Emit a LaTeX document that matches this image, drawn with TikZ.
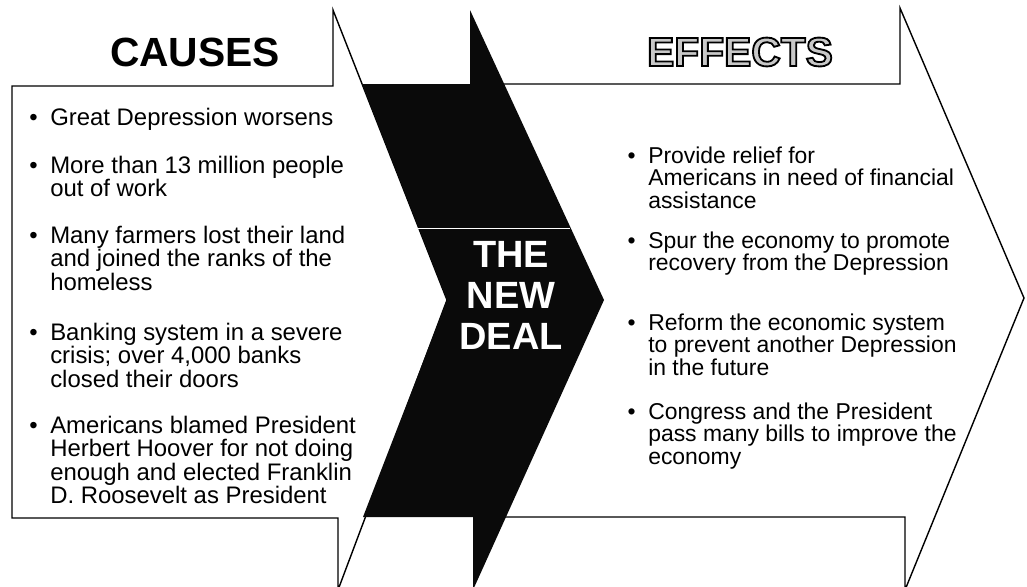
\documentclass[tikz,border=0pt]{standalone}
\usepackage{fontspec}
\setmainfont{Liberation Sans}
\usepackage{xcolor}
\usepackage{tikz}
\tikzset{every picture/.append style={font=\fontsize{17}{16.7}\selectfont}}
\definecolor{dealblack}{HTML}{0A0A0A}
\definecolor{effgray}{HTML}{C8C8C8}
\newcommand{\outlinetext}[1]{\special{pdf:literal 0 G 2 Tr 1.3 w}#1\special{pdf:literal 0 Tr}}

\begin{document}
\begin{tikzpicture}[x=0.025cm,y=-0.025cm,
    arrowbox/.style={draw=black,line width=1pt,fill=white,line join=miter},
    bulletitem/.style={anchor=base west,align=left,inner sep=0pt},
    headtxt/.style={font=\fontsize{29}{30}\selectfont\bfseries,inner sep=0pt}]
    \useasboundingbox (0,0) rectangle (1027,586);
    \begin{scope}
      \clip (0,0) rectangle (1027,586);
      \draw[arrowbox] (12,86) -- (333,86) -- (333,10) -- (447,300) -- (338,590) -- (338,518) -- (12,518) -- cycle;
      \draw[arrowbox] (480,84) -- (900,84) -- (900,8) -- (1024,298) -- (905,590) -- (905,517) -- (480,517) -- cycle;
      \fill[dealblack] (362,84) -- (470,84) -- (470,10) -- (604,300) -- (473,590) -- (473,517) -- (363,517) -- (447,300) -- cycle;
      \draw[white,line width=0.5pt] (418,228) -- (570,228);
    \end{scope}
    \node[headtxt] (causes) at (195,52) {CAUSES};
    \node[headtxt,text=effgray] (effects) at (740,52) {\outlinetext{EFFECTS}};
    \node[headtxt,font=\fontsize{27}{29.2}\selectfont\bfseries,text=white,align=center] (deal) at (511,295) {THE\\NEW\\DEAL};
    \foreach \n/\y/\txt in {1/125/{Great Depression worsens},
        2/196.5/{More than 13 million people\\out of work},
        3/290/{Many farmers lost their land\\and joined the ranks of the\\homeless},
        4/387/{Banking system in a severe\\crisis; over 4,000 banks\\closed their doors},
        5/503.5/{Americans blamed President\\Herbert Hoover for not doing\\enough and elected Franklin\\D. Roosevelt as President}} {
      \node[bulletitem] (cause\n) at (50,\y) {\llap{\textbullet\hspace{9pt}}\txt};
    }
    \foreach \n/\y/\txt in {1/208/{Provide relief for\\Americans in need of financial\\assistance},
        2/270.5/{Spur the economy to promote\\recovery from the Depression},
        3/375/{Reform the economic system\\to prevent another Depression\\in the future},
        4/464/{Congress and the President\\pass many bills to improve the\\economy}} {
      \node[bulletitem,font=\fontsize{16.3}{16}\selectfont] (effect\n) at (648,\y) {\llap{\textbullet\hspace{9pt}}\txt};
    }
\end{tikzpicture}
\end{document}
